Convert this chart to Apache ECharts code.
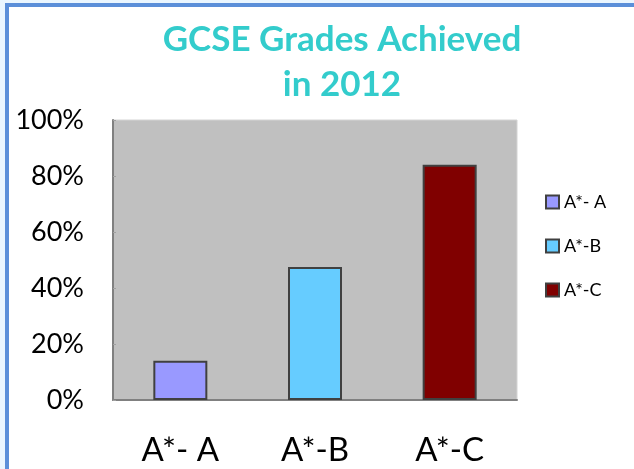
<!DOCTYPE html>
<html>
<head>
<meta charset="utf-8">
<script src="https://cdn.jsdelivr.net/npm/echarts@6/dist/echarts.min.js"></script>
<style>
html,body{margin:0;padding:0;width:634px;height:469px;overflow:hidden;background:#eaf6ff;}
#frame{position:absolute;left:5px;top:3px;width:700px;height:520px;border:4px solid #5b8fd9;background:#fff;}
#chart{position:absolute;left:0;top:0;width:634px;height:469px;}
</style>
</head>
<body>
<div id="frame"></div>
<div id="chart"></div>
<script>
var titleText = 'GCSE Grades Achieved\nin 2012';
var categories = ['A*- A', 'A*-B', 'A*-C'];
var seriesNames = ['A*- A', 'A*-B', 'A*-C'];
var values = [14, 47.5, 84];
var colors = ['#9999ff', '#66ccff', '#800000'];
var yTicks = [0, 20, 40, 60, 80, 100];

var chart = echarts.init(document.getElementById('chart'), null, {renderer: 'canvas'});
var series = seriesNames.map(function (name, i) {
  var d = categories.map(function (c, j) { return j === i ? values[i] : '-'; });
  return {
    name: name,
    type: 'bar',
    stack: 'g',
    data: d,
    barWidth: 54,
    itemStyle: {color: colors[i], borderColor: '#404040', borderWidth: 2}
  };
});
chart.setOption({
  animation: false,
  backgroundColor: 'transparent',
  title: {
    text: titleText,
    left: 337,
    textAlign: 'center',
    top: 12,
    textStyle: {fontFamily: 'Lato', fontWeight: 'bold', fontSize: 35, color: '#33cccc', lineHeight: 45}
  },
  legend: {
    orient: 'vertical',
    left: 540,
    top: 188,
    itemWidth: 13,
    itemHeight: 13,
    itemGap: 26,
    icon: 'rect',
    textStyle: {fontFamily: 'Lato', fontSize: 18, color: '#000'},
    data: seriesNames
  },
  grid: {
    left: 113, right: 117, top: 120, bottom: 69,
    show: true, backgroundColor: '#c0c0c0', borderColor: '#d4d4d4', borderWidth: 1
  },
  xAxis: {
    type: 'category',
    data: categories,
    axisLine: {lineStyle: {color: '#808080', width: 2}},
    axisTick: {show: false},
    axisLabel: {fontFamily: 'Lato', fontSize: 33, color: '#000', margin: 34}
  },
  yAxis: {
    type: 'value',
    min: yTicks[0],
    max: yTicks[yTicks.length - 1],
    interval: 20,
    axisLine: {show: true, lineStyle: {color: '#808080', width: 2}},
    axisTick: {show: true, inside: true, length: 3, lineStyle: {color: '#a0a0a0'}},
    splitLine: {show: false},
    axisLabel: {fontFamily: 'Lato', fontSize: 27, color: '#000', margin: 29, formatter: '{value}%'}
  },
  series: series
});
</script>
</body>
</html>
